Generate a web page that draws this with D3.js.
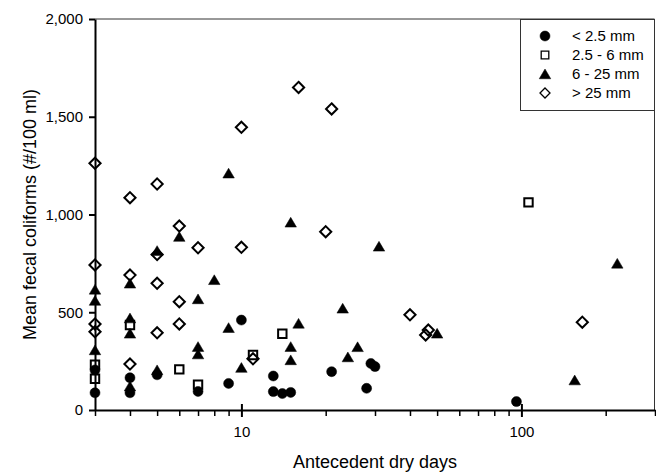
<!DOCTYPE html>
<html>
<head>
<meta charset="utf-8">
<script src="https://cdn.jsdelivr.net/npm/d3@7"></script>
<style>
  body { margin: 0; background: #fff; }
  text { font-family: "Liberation Sans", Arial, sans-serif; fill: #000; }
</style>
</head>
<body>
<div id="chart"></div>
<script>
// rainfall classes
const seriesNames = ["< 2.5 mm", "2.5 - 6 mm", "6 - 25 mm", "> 25 mm"];

// antecedent dry days / mean fecal coliforms, one pair per class
const circleDays = [3, 3, 4, 4, 5, 7, 9, 10, 13, 13, 14, 15, 21, 28, 29, 30, 96];
const circleFC   = [205, 88, 165, 88, 180, 95, 136, 460, 174, 94, 84, 90, 196, 111, 238, 222, 43];

const squareDays = [3, 3, 4, 6, 7, 11, 14, 106];
const squareFC   = [232, 160, 435, 208, 130, 281, 390, 1062];

const triDays = [3, 3, 3, 4, 4, 4, 4, 5, 5, 6, 7, 7, 7, 8, 9, 9, 10, 15, 15, 15, 16, 23, 24, 26, 31, 50, 155, 220];
const triFC   = [617, 560, 307, 648, 470, 392, 122, 815, 205, 887, 568, 324, 286, 666, 1211, 421, 217, 960, 324, 256, 443, 520, 271, 323, 837, 392, 153, 750];

const diaDays = [3, 3, 3, 3, 4, 4, 4, 5, 5, 5, 5, 6, 6, 6, 7, 10, 10, 11, 16, 20, 21, 40, 45.5, 46.5, 165];
const diaFC   = [1262, 742, 440, 400, 1086, 690, 235, 1156, 795, 648, 395, 941, 554, 440, 830, 1446, 832, 262, 1650, 912, 1540, 487, 384, 409, 449];

const yTicks = [0, 500, 1000, 1500, 2000];
const xMajor = [10, 100];

const width = 656, height = 474;
const margin = { top: 19, right: 1, bottom: 64, left: 95 };

const svg = d3.select("#chart").append("svg")
  .attr("width", width)
  .attr("height", height);

const x = d3.scaleLog()
  .domain([3, 300])
  .range([margin.left, width - margin.right]);

const y = d3.scaleLinear()
  .domain([0, 2000])
  .range([height - margin.bottom, margin.top]);

// marker shapes
function shapePath(kind, s) {
  const p = d3.path();
  if (kind === "circle") {
    p.arc(0, 0, s, 0, 2 * Math.PI);
  } else if (kind === "square") {
    p.rect(-s, -s, 2 * s, 2 * s);
  } else if (kind === "triangle") {
    p.moveTo(0, -s);
    p.lineTo(s * 1.15, s * 0.95);
    p.lineTo(-s * 1.15, s * 0.95);
    p.closePath();
  } else {
    p.moveTo(0, -s);
    p.lineTo(s, 0);
    p.lineTo(0, s);
    p.lineTo(-s, 0);
    p.closePath();
  }
  return p.toString();
}

const series = [
  { kind: "circle", days: circleDays, fc: circleFC, size: 5, filled: true },
  { kind: "square", days: squareDays, fc: squareFC, size: 4.2, filled: false },
  { kind: "triangle", days: triDays, fc: triFC, size: 5, filled: true },
  { kind: "diamond", days: diaDays, fc: diaFC, size: 5.6, filled: false }
];

// frame: thin top and right border
svg.append("path")
  .attr("d", `M${margin.left},${margin.top}H${width - margin.right - 0.5}V${height - margin.bottom}`)
  .attr("fill", "none")
  .attr("stroke", "#333")
  .attr("stroke-width", 1);

// points
series.forEach(s => {
  svg.append("g")
    .selectAll("path")
    .data(s.days.map((d, i) => [d, s.fc[i]]))
    .enter()
    .append("path")
    .attr("transform", d => `translate(${x(d[0])},${y(d[1])})`)
    .attr("d", shapePath(s.kind, s.size))
    .attr("fill", s.filled ? "#000" : "none")
    .attr("stroke", "#000")
    .attr("stroke-width", s.filled ? 0.5 : 2);
});

// y axis
const yAxis = svg.append("g")
  .attr("transform", `translate(${margin.left},0)`)
  .call(d3.axisLeft(y)
    .tickValues(yTicks)
    .tickFormat(d3.format(","))
    .tickSize(6)
    .tickSizeOuter(0)
    .tickPadding(6));
yAxis.select(".domain").attr("stroke-width", 2);
yAxis.selectAll(".tick line").attr("stroke-width", 2);
yAxis.selectAll("text").style("font-size", "15px").attr("font-family", null);

// x axis: minor ticks at every integer multiple, labels at decades
const xMinor = [];
[1, 10, 100].forEach(base => {
  for (let k = 1; k <= 9; k++) {
    const v = base * k;
    if (v >= 3 && v <= 300 && !xMajor.includes(v)) xMinor.push(v);
  }
});

const xMinorAxis = svg.append("g")
  .attr("transform", `translate(0,${height - margin.bottom})`)
  .call(d3.axisBottom(x)
    .tickValues(xMinor)
    .tickFormat("")
    .tickSize(6)
    .tickSizeOuter(0));
xMinorAxis.select(".domain").attr("stroke-width", 2);
xMinorAxis.selectAll(".tick line").attr("stroke-width", 1.5);

const xMajorAxis = svg.append("g")
  .attr("transform", `translate(0,${height - margin.bottom})`)
  .call(d3.axisBottom(x)
    .tickValues(xMajor)
    .tickFormat(d3.format("d"))
    .tickSize(7)
    .tickPadding(9)
    .tickSizeOuter(0));
xMajorAxis.select(".domain").remove();
xMajorAxis.selectAll(".tick line")
  .attr("y1", -6)
  .attr("stroke-width", 2);
xMajorAxis.selectAll("text").style("font-size", "15px").attr("font-family", null);

// axis titles
svg.append("text")
  .attr("x", (margin.left + width - margin.right) / 2)
  .attr("y", 468)
  .attr("text-anchor", "middle")
  .style("font-size", "18px")
  .text("Antecedent dry days");

svg.append("text")
  .attr("transform", `translate(36,${(margin.top + height - margin.bottom) / 2}) rotate(-90)`)
  .attr("text-anchor", "middle")
  .style("font-size", "18px")
  .text("Mean fecal coliforms (#/100 ml)");

// legend
const legend = svg.append("g");
legend.append("rect")
  .attr("x", 520.5)
  .attr("y", margin.top + 0.5)
  .attr("width", width - margin.right - 521)
  .attr("height", 91)
  .attr("fill", "#fff")
  .attr("stroke", "#333")
  .attr("stroke-width", 1);

const legendSizes = [5, 3.8, 5, 5];
series.forEach((s, i) => {
  const row = legend.append("g")
    .attr("transform", `translate(0,${36 + i * 19})`);
  row.append("path")
    .attr("transform", "translate(545,0)")
    .attr("d", shapePath(s.kind, legendSizes[i]))
    .attr("fill", s.filled ? "#000" : "none")
    .attr("stroke", "#000")
    .attr("stroke-width", s.filled ? 0.5 : 1.3);
  row.append("text")
    .attr("x", 572)
    .attr("dy", "0.35em")
    .style("font-size", "15px")
    .text(seriesNames[i]);
});
</script>
</body>
</html>
